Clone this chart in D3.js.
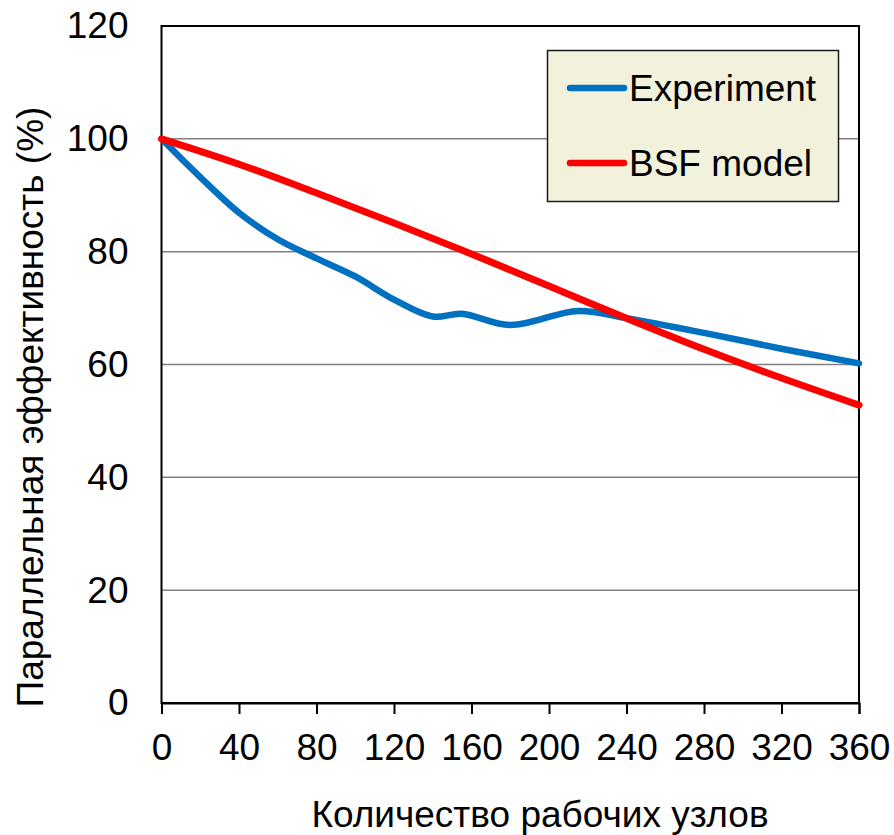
<!DOCTYPE html>
<html>
<head>
<meta charset="utf-8">
<script src="https://cdn.jsdelivr.net/npm/d3@7/dist/d3.min.js"></script>
<style>
  html, body { margin: 0; padding: 0; background: #fff; }
  svg { display: block; font-family: "Liberation Sans", Arial, sans-serif; }
</style>
</head>
<body>
<svg id="chart" width="894" height="835"></svg>
<script>
// Parallel efficiency vs. number of worker nodes
const nodes      = [0, 20, 40, 60, 80, 100, 120, 140, 155, 180, 215, 240, 280, 320, 360];
const experiment = [100, 93.2, 86.9, 82.2, 78.8, 75.6, 71.5, 68.5, 69.0, 67.0, 69.5, 68.2, 65.6, 62.8, 60.2];

const modelNodes = [0, 40, 80, 120, 160, 200, 240, 280, 320, 360];
const bsfModel   = [100, 95.5, 90.4, 85.1, 79.6, 73.9, 68.2, 62.7, 57.6, 52.8];

const xTicks = [0, 40, 80, 120, 160, 200, 240, 280, 320, 360];
const yTicks = [0, 20, 40, 60, 80, 100, 120];

const seriesNames = ["Experiment", "BSF model"];
const seriesColors = ["#0070c0", "#ff0000"];

const FONT = 37;
const svg = d3.select("#chart");
const plot = { left: 161.5, right: 859, top: 26, bottom: 703 };

const x = d3.scaleLinear().domain([0, 360]).range([plot.left, plot.right]);
const y = d3.scaleLinear().domain([0, 120]).range([plot.bottom, plot.top]);

// horizontal gridlines
svg.append("g")
  .selectAll("line")
  .data(yTicks.filter(v => v > 0 && v < 120))
  .join("line")
  .attr("x1", plot.left).attr("x2", plot.right)
  .attr("y1", d => y(d)).attr("y2", d => y(d))
  .attr("stroke", "#808080").attr("stroke-width", 1.5);

// plot-area frame
svg.append("rect")
  .attr("x", plot.left).attr("y", plot.top)
  .attr("width", plot.right - plot.left).attr("height", plot.bottom - plot.top)
  .attr("fill", "none").attr("stroke", "#000").attr("stroke-width", 2);

// x axis with outward ticks
const xAxis = svg.append("g")
  .attr("transform", `translate(0,${plot.bottom})`)
  .call(d3.axisBottom(x).tickValues(xTicks).tickSize(11).tickPadding(20).tickFormat(d3.format("d")));
xAxis.select(".domain").attr("stroke", "#000").attr("stroke-width", 2);
xAxis.selectAll(".tick line").attr("stroke", "#000").attr("stroke-width", 2);
xAxis.selectAll(".tick text").attr("font-size", FONT).attr("fill", "#000")
  .attr("font-family", "Liberation Sans, Arial, sans-serif");

// y axis labels only
const yAxis = svg.append("g")
  .attr("transform", `translate(${plot.left},0)`)
  .call(d3.axisLeft(y).tickValues(yTicks).tickSize(0).tickPadding(33).tickFormat(d3.format("d")));
yAxis.select(".domain").remove();
yAxis.selectAll(".tick text").attr("font-size", FONT).attr("fill", "#000")
  .attr("font-family", "Liberation Sans, Arial, sans-serif");

// series lines
const line = d3.line().x(d => x(d[0])).y(d => y(d[1])).curve(d3.curveCatmullRom.alpha(0.5));

svg.append("path")
  .datum(nodes.map((n, i) => [n, experiment[i]]))
  .attr("d", line)
  .attr("fill", "none").attr("stroke", seriesColors[0]).attr("stroke-width", 6.5)
  .attr("stroke-linecap", "round").attr("stroke-linejoin", "round");

svg.append("path")
  .datum(modelNodes.map((n, i) => [n, bsfModel[i]]))
  .attr("d", line)
  .attr("fill", "none").attr("stroke", seriesColors[1]).attr("stroke-width", 7)
  .attr("stroke-linecap", "round").attr("stroke-linejoin", "round");

// legend
const legend = svg.append("g");
legend.append("rect")
  .attr("x", 547.5).attr("y", 50.5).attr("width", 291).attr("height", 151)
  .attr("fill", "#f2f2dc").attr("stroke", "#1a1a1a").attr("stroke-width", 1.5);
const legendRows = [88, 163];
seriesNames.forEach((name, i) => {
  legend.append("line")
    .attr("x1", 570).attr("x2", 624)
    .attr("y1", legendRows[i]).attr("y2", legendRows[i])
    .attr("stroke", seriesColors[i]).attr("stroke-width", 6.5).attr("stroke-linecap", "round");
  legend.append("text")
    .attr("x", 629).attr("y", legendRows[i]).attr("dy", "0.35em")
    .attr("font-size", FONT).attr("fill", "#000")
    .text(name);
});

// axis titles
svg.append("text")
  .attr("x", 540).attr("y", 827)
  .attr("text-anchor", "middle").attr("font-size", FONT).attr("fill", "#000")
  .text("Количество рабочих узлов");

svg.append("text")
  .attr("transform", `translate(43,407) rotate(-90)`)
  .attr("text-anchor", "middle").attr("font-size", FONT).attr("fill", "#000")
  .text("Параллельная эффективность (%)");
</script>
</body>
</html>
